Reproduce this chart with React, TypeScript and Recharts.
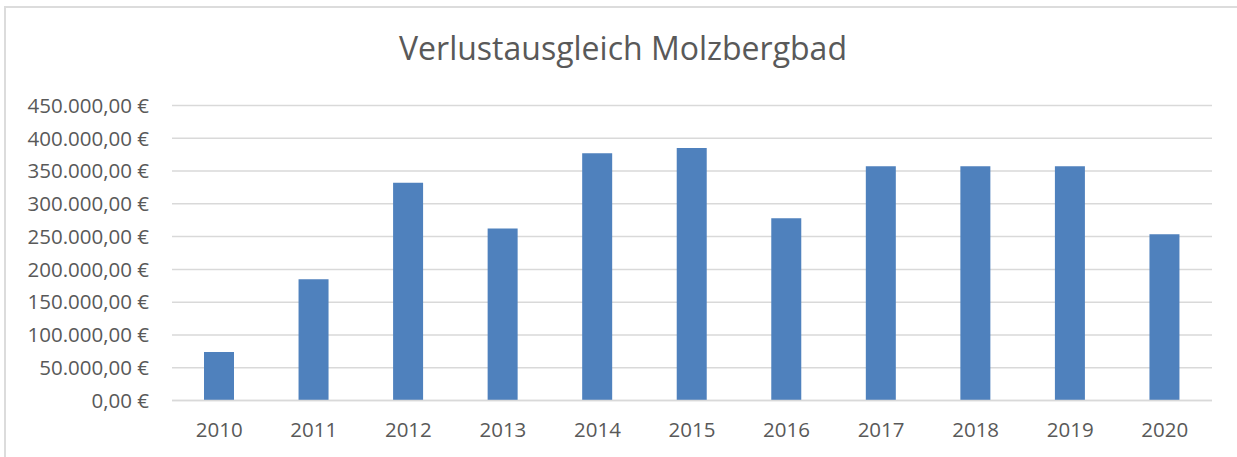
import React from "react";
import { BarChart, Bar, XAxis, YAxis, CartesianGrid } from "recharts";

const years = ["2010", "2011", "2012", "2013", "2014", "2015", "2016", "2017", "2018", "2019", "2020"];
const verlust = [74000, 185000, 332000, 262500, 377000, 385000, 278000, 357500, 357500, 357500, 253500];
const yTicks = [0, 50000, 100000, 150000, 200000, 250000, 300000, 350000, 400000, 450000];

const data = years.map((year, i) => ({ year, value: verlust[i] }));

const TEXT = "#595959";
const GRID = "#d9d9d9";
const FONT = "'Open Sans', 'Liberation Sans', sans-serif";

// 450000 -> "450.000,00 €"
function euro(v: number) {
  const s = Math.round(v).toString().replace(/\B(?=(\d{3})+(?!\d))/g, ".");
  return `${s},00 €`;
}

export default function App() {
  return (
    <div style={{ position: "absolute", left: 0, top: 0, width: 1237, height: 457, overflow: "hidden", background: "#fff", fontFamily: FONT }}>
      <div style={{ position: "absolute", left: 4, top: 6, width: 1260, height: 480, border: "2px solid #dcdcdc", boxSizing: "border-box" }} />
      <div
        style={{
          position: "absolute",
          left: 0,
          width: 1246,
          top: 24,
          textAlign: "center",
          fontSize: 32,
          color: TEXT,
          lineHeight: "48px",
        }}
      >
        Verlustausgleich Molzbergbad
      </div>
      <div style={{ position: "absolute", left: 0, top: 0 }}>
        <BarChart width={1237} height={457} data={data} margin={{ top: 105.5, right: 25, bottom: 26.5, left: 12 }} barSize={30}>
          <CartesianGrid vertical={false} stroke={GRID} strokeWidth={1.5} />
          <XAxis
            dataKey="year"
            height={30}
            tickSize={0}
            tickMargin={22}
            axisLine={{ stroke: GRID, strokeWidth: 1.5 }}
            tickLine={false}
            tick={{ fontSize: 20.5, fill: TEXT, fontFamily: FONT }}
          />
          <YAxis
            width={160}
            domain={[0, 450000]}
            ticks={yTicks}
            tickFormatter={euro}
            tickSize={0}
            tickMargin={23}
            axisLine={false}
            tickLine={false}
            interval={0}
            tick={{ fontSize: 20.5, fill: TEXT, fontFamily: FONT }}
          />
          <Bar dataKey="value" fill="#4f81bd" isAnimationActive={false} />
        </BarChart>
      </div>
    </div>
  );
}
